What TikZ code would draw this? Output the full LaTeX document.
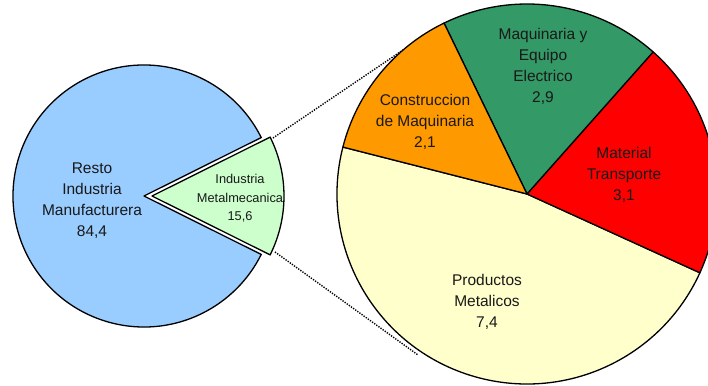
\documentclass[tikz,border=0pt]{standalone}
\usepackage{fontspec}
\setmainfont{Liberation Sans}
\definecolor{cblue}{HTML}{99CCFF}
\definecolor{clgreen}{HTML}{CCFFCC}
\definecolor{corange}{HTML}{FF9900}
\definecolor{cgreen}{HTML}{339966}
\definecolor{cred}{HTML}{FF0000}
\definecolor{cyellow}{HTML}{FFFFCC}
\begin{document}
\begin{tikzpicture}[x=1pt,y=1pt,
  slice/.style={draw=black,line width=1.3pt,line join=round},
  lbl/.style={align=center,inner sep=0pt,text=black!90,font=\fontsize{15.5}{21}\selectfont},
  smalllbl/.style={align=center,inner sep=0pt,text=black!90,font=\fontsize{12.8}{18.5}\selectfont},
  link/.style={draw=black,line width=1.4pt,dash pattern=on 1.3pt off 1.3pt}]
\useasboundingbox (0,0) rectangle (708,385);
\clip (0,0) rectangle (708,385);
% anchor coordinates
\coordinate (lc) at (144,189);
\coordinate (wc) at (152,189);
\coordinate (rc) at (527,191);
\coordinate (wtop) at (273,247);
\coordinate (wbot) at (275,133);
\coordinate (ptop) at (403,335);
\coordinate (pbot) at (418,30);
% dotted links
\draw[link] (wtop) -- (ptop);
\draw[link] (wbot) -- (pbot);
% left pie
\filldraw[slice,fill=cblue] (lc) -- ++(26.5:131) arc[start angle=26.5,end angle=333.5,radius=131] -- cycle;
\filldraw[slice,fill=clgreen] (wc) -- ++(-26.5:132) arc[start angle=-26.5,end angle=26.5,radius=132] -- cycle;
% right pie
\filldraw[slice,fill=cyellow] (rc) -- ++(165.7:190) arc[start angle=165.7,end angle=335.5,radius=190] -- cycle;
\filldraw[slice,fill=cred] (rc) -- ++(-24.5:190) arc[start angle=-24.5,end angle=48.4,radius=190] -- cycle;
\filldraw[slice,fill=cgreen] (rc) -- ++(48.4:190) arc[start angle=48.4,end angle=115.9,radius=190] -- cycle;
\filldraw[slice,fill=corange] (rc) -- ++(115.9:190) arc[start angle=115.9,end angle=165.7,radius=190] -- cycle;
% labels
\node[lbl] (resto) at (92,184.5) {Resto\\Industria\\Manufacturera\\84,4};
\node[smalllbl] (metal) at (240,186.5) {Industria\\Metalmecanica\\15,6};
\node[lbl] (constr) at (425,263.3) {Construccion\\de Maquinaria\\2,1};
\node[lbl] (maq) at (543,319) {Maquinaria y\\Equipo\\Electrico\\2,9};
\node[lbl] (mat) at (624,210) {Material\\Transporte\\3,1};
\node[lbl] (prod) at (487,83) {Productos\\Metalicos\\7,4};
\end{tikzpicture}
\end{document}
